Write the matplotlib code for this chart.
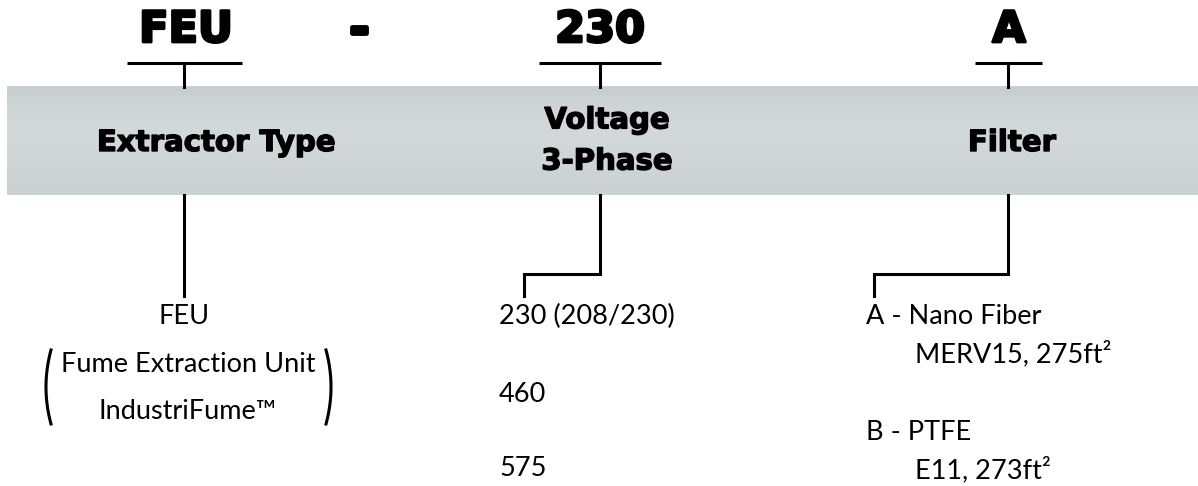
import matplotlib.pyplot as plt
import matplotlib.patheffects as pe
import numpy as np

# code parts shown on top and their captions in the grey band
codes = ["FEU", "230", "A"]
captions = ["Extractor Type", "Voltage\n3-Phase", "Filter"]

# options listed under each part
type_name = "FEU"
type_desc = ["Fume Extraction Unit", "IndustriFume\u2122"]
voltages = ["230 (208/230)", "460", "575"]
filters = ["A - Nano Fiber", "B - PTFE"]
filter_specs = ["MERV15, 275ft\u00b2", "E11, 273ft\u00b2"]

plt.rcParams['font.family'] = ['Lato', 'DejaVu Sans']
heavy = dict(family='DejaVu Sans', fontweight='bold', color='black')
light = dict(fontsize=19.5, fontweight='normal', color='black')

W, H = 1198, 486
fig = plt.figure(figsize=(W / 100, H / 100), dpi=100)
ax = fig.add_axes([0, 0, 1, 1])
ax.set_xlim(0, W)
ax.set_ylim(H, 0)
ax.axis('off')

col_x = [184, 600, 1008]      # connector of each code column
code_x = [186, 600, 1009]
cap_x = [216, 607, 1012]
cap_y = [143, 141, 143]
under_w = [115, 122, 67]
band_top, band_bot = 87, 195

# brushed metal band (light blue-grey, slightly lighter in the middle)
shade = np.array([0, 3, 6, 8, 9, 10, 11, 11, 10, 9, 8, 7, 6, 5, 4, 3]) / 255.0
base = np.array([200, 205, 208]) / 255.0
band = np.clip(base[None, None, :] + shade[:, None, None], 0, 1)
band = np.repeat(band, 2, axis=1)
ax.imshow(band, aspect='auto', interpolation='bicubic',
          extent=(7, W, band_bot, band_top), zorder=0)

thick_big = [pe.withStroke(linewidth=2.0, foreground='black')]
thick_small = [pe.withStroke(linewidth=1.0, foreground='black')]

lw = 2.2
for i, (code, cap) in enumerate(zip(codes, captions)):
    x = col_x[i]
    ax.text(code_x[i], 30, code, ha='center', va='center', fontsize=31,
            path_effects=thick_big, **heavy)
    ax.plot([x - under_w[i] / 2, x + under_w[i] / 2], [63, 63], color='black', lw=lw, solid_capstyle='butt')
    ax.plot([x, x], [63, band_top], color='black', lw=lw)
    ax.text(cap_x[i], cap_y[i], cap, ha='center', va='center', fontsize=21,
            linespacing=1.6, path_effects=thick_small, **heavy)

ax.text(359, 31, "-", ha='center', va='center', fontsize=34,
        path_effects=[pe.withStroke(linewidth=3.5, foreground='black')], **heavy)

# connectors below the band
ax.plot([col_x[0], col_x[0]], [band_bot, 296], color='black', lw=lw)
ax.plot([col_x[1], col_x[1], 524, 524], [band_bot, 274, 274, 296], color='black', lw=lw,
        solid_joinstyle='miter')
ax.plot([col_x[2], col_x[2], 874, 874], [band_bot, 274, 274, 296], color='black', lw=lw,
        solid_joinstyle='miter')

# extractor type
ax.text(col_x[0], 316, type_name, ha='center', va='center', **light)
ax.text(188, 364, type_desc[0], ha='center', va='center', **light)
ax.text(188, 411, type_desc[1], ha='center', va='center', **light)

# tall thin brackets around the description
t = np.linspace(-1, 1, 40)
ys = 387 + 37 * t
bulge = 5 * (1 - t ** 2)
ax.plot(51 - bulge, ys, color='black', lw=2.2)
ax.plot(326 + bulge, ys, color='black', lw=2.2)

# voltages
for v, y in zip(voltages, [316, 394, 468]):
    ax.text(499, y, v, ha='left', va='center', **light)

# filters
for f, s, y in zip(filters, filter_specs, [316, 432]):
    ax.text(866, y, f, ha='left', va='center', **light)
    ax.text(915, y + 38, s, ha='left', va='center', **light)

fig.savefig("out.png", dpi=100)
